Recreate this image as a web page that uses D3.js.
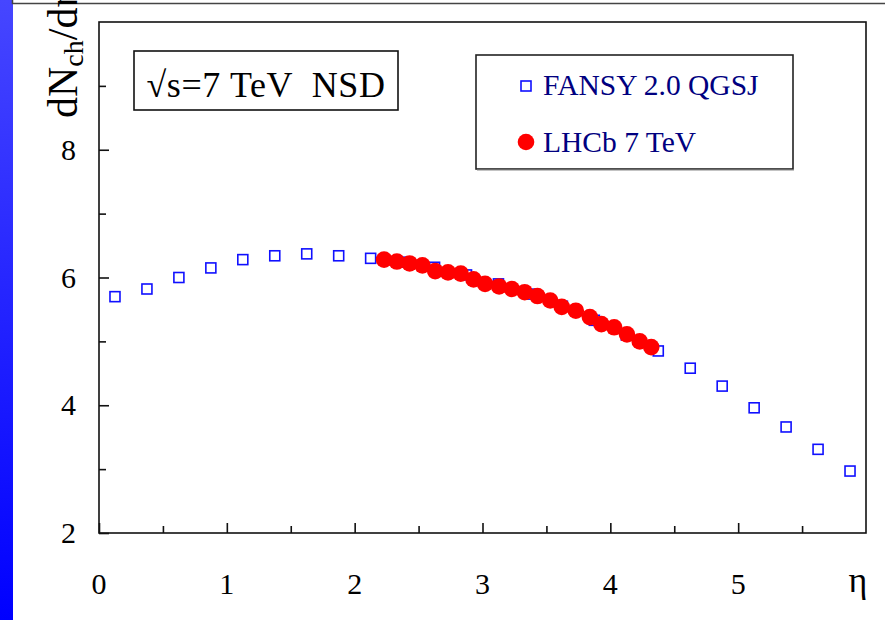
<!DOCTYPE html>
<html>
<head>
<meta charset="utf-8">
<script src="https://cdn.jsdelivr.net/npm/d3@7"></script>
<style>
  html, body { margin: 0; padding: 0; background: #fff; }
  svg { display: block; }
  text { font-family: "Liberation Serif", "Times New Roman", serif; white-space: pre; }
</style>
</head>
<body>
<svg id="chart" width="885" height="620"></svg>
<script>
// Pseudorapidity bins of the FANSY 2.0 QGSJ simulation
const fansyEta = [0.125, 0.375, 0.625, 0.875, 1.125, 1.375, 1.625, 1.875,
                  2.125, 2.375, 2.625, 2.875, 3.125, 3.375, 3.625, 3.875,
                  4.125, 4.375, 4.625, 4.875, 5.125, 5.375, 5.625, 5.875];
const fansyVal = [5.70, 5.82, 6.00, 6.15, 6.28, 6.34, 6.37, 6.34,
                  6.30, 6.24, 6.16, 6.04, 5.90, 5.74, 5.55, 5.33,
                  5.10, 4.85, 4.58, 4.30, 3.96, 3.66, 3.31, 2.97];

// LHCb 7 TeV NSD measurement
const lhcbEta = [2.23, 2.33, 2.43, 2.53, 2.63, 2.73, 2.83, 2.93, 3.02, 3.13, 3.23,
                 3.33, 3.43, 3.53, 3.62, 3.73, 3.84, 3.93, 4.03, 4.13, 4.23, 4.32];
const lhcbVal = [6.28, 6.25, 6.22, 6.19, 6.10, 6.08, 6.06, 5.97, 5.90, 5.86, 5.82,
                 5.77, 5.71, 5.64, 5.54, 5.48, 5.38, 5.27, 5.22, 5.11, 5.00, 4.91];

const xMajor = [0, 1, 2, 3, 4, 5];
const xMinor = [0.5, 1.5, 2.5, 3.5, 4.5, 5.5];
const yMajor = [2, 4, 6, 8];
const yMinor = [3, 5, 7, 9];

const legendLabels = ["FANSY 2.0 QGSJ", "LHCb 7 TeV"];
const energyLabel = "\u221As=7 TeV  NSD";

const svg = d3.select("#chart");

// Side strip with a vertical blue gradient
const defs = svg.append("defs");
const grad = defs.append("linearGradient")
  .attr("id", "strip").attr("x1", 0).attr("y1", 0).attr("x2", 0).attr("y2", 1);
grad.append("stop").attr("offset", "0%").attr("stop-color", "#4646ff");
grad.append("stop").attr("offset", "100%").attr("stop-color", "#0000ff");
svg.append("rect").attr("x", 0).attr("y", 0).attr("width", 13).attr("height", 620)
  .attr("fill", "url(#strip)");

// Thin header rule
svg.append("path").attr("d", "M12.5,0 V3.5 H885")
  .attr("fill", "none").attr("stroke", "#444").attr("stroke-width", 1.5);

const plot = { left: 99, top: 22, right: 866, bottom: 533 };

const x = d3.scaleLinear().domain([0, 6]).range([plot.left, plot.right]);
const y = d3.scaleLinear().domain([2, 10]).range([plot.bottom, plot.top]);

// Frame
svg.append("rect")
  .attr("x", plot.left).attr("y", plot.top)
  .attr("width", plot.right - plot.left).attr("height", plot.bottom - plot.top)
  .attr("fill", "none").attr("stroke", "#111").attr("stroke-width", 1.6);

// Bottom axis: inward ticks
const xAxis = svg.append("g").attr("transform", `translate(0,${plot.bottom})`);
xAxis.call(d3.axisTop(x).tickValues(xMajor).tickSize(10).tickFormat(""));
xAxis.append("g").call(d3.axisTop(x).tickValues(xMinor).tickSize(7).tickFormat(""));
xAxis.selectAll(".domain").remove();
xAxis.selectAll("line").attr("stroke", "#111").attr("stroke-width", 1.6);

svg.append("g").selectAll("text").data(xMajor).join("text")
  .attr("x", d => x(d)).attr("y", 594)
  .attr("text-anchor", "middle")
  .attr("font-size", 30).attr("fill", "#000")
  .text(d => d);

// Left axis: inward ticks
const yAxis = svg.append("g").attr("transform", `translate(${plot.left},0)`);
yAxis.call(d3.axisRight(y).tickValues(yMajor).tickSize(10).tickFormat(""));
yAxis.append("g").call(d3.axisRight(y).tickValues(yMinor).tickSize(7).tickFormat(""));
yAxis.selectAll(".domain").remove();
yAxis.selectAll("line").attr("stroke", "#111").attr("stroke-width", 1.6);

svg.append("g").selectAll("text").data(yMajor).join("text")
  .attr("x", 76).attr("y", d => y(d) + 10)
  .attr("text-anchor", "end")
  .attr("font-size", 30).attr("fill", "#000")
  .text(d => d);

// Axis titles
svg.append("text").attr("x", 858).attr("y", 592)
  .attr("text-anchor", "middle").attr("font-size", 36).text("\u03b7");

const yTitle = svg.append("text")
  .attr("transform", "translate(77,118) rotate(-90)")
  .attr("font-size", 42).attr("fill", "#000");
yTitle.append("tspan").text("dN");
yTitle.append("tspan").attr("font-size", 28).attr("dy", 6).text("ch");
yTitle.append("tspan").attr("dy", -6).text("/d\u03b7");

// FANSY squares
svg.append("g").selectAll("rect").data(fansyEta).join("rect")
  .attr("x", (d, i) => x(d) - 5).attr("y", (d, i) => y(fansyVal[i]) - 5)
  .attr("width", 10).attr("height", 10)
  .attr("fill", "none").attr("stroke", "#1010ff").attr("stroke-width", 1.6);

// LHCb points
svg.append("g").selectAll("circle").data(lhcbEta).join("circle")
  .attr("cx", d => x(d)).attr("cy", (d, i) => y(lhcbVal[i]))
  .attr("r", 8.3).attr("fill", "#ff0000");

// Energy label box
svg.append("rect").attr("x", 134).attr("y", 51).attr("width", 264).attr("height", 59)
  .attr("fill", "#fff").attr("stroke", "#111").attr("stroke-width", 1.6);
svg.append("text").attr("x", 266).attr("y", 97).attr("text-anchor", "middle")
  .attr("font-size", 36).attr("letter-spacing", 0.6).attr("fill", "#000")
  .attr("xml:space", "preserve")
  .text(energyLabel);

// Legend
svg.append("rect").attr("x", 476).attr("y", 55).attr("width", 317).attr("height", 114)
  .attr("fill", "#fff").attr("stroke", "#222").attr("stroke-width", 1.6);
svg.append("line").attr("x1", 477).attr("x2", 794).attr("y1", 170).attr("y2", 170)
  .attr("stroke", "#888").attr("stroke-width", 1.2);
svg.append("rect").attr("x", 521).attr("y", 81).attr("width", 10).attr("height", 10)
  .attr("fill", "none").attr("stroke", "#1010ff").attr("stroke-width", 1.6);
svg.append("circle").attr("cx", 526).attr("cy", 142).attr("r", 8.3).attr("fill", "#ff0000");
svg.append("g").selectAll("text").data(legendLabels).join("text")
  .attr("x", 543).attr("y", (d, i) => i === 0 ? 95 : 152)
  .attr("font-size", 29.5).attr("fill", "#000080")
  .text(d => d);
</script>
</body>
</html>
